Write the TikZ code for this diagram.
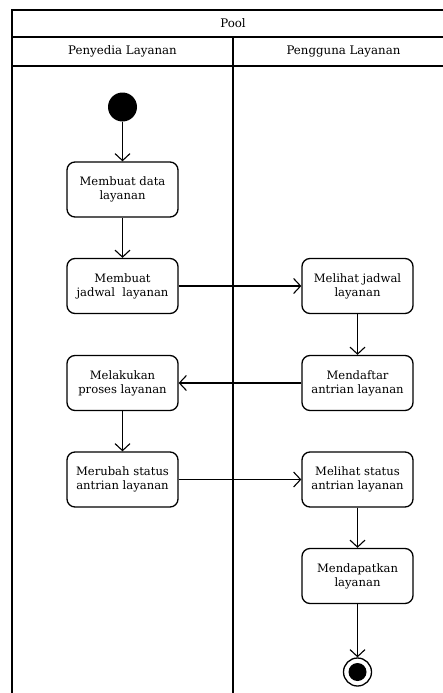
\documentclass[tikz,border=0pt]{standalone}
\usepackage{fontspec}
\setmainfont{DejaVu Serif}
\usetikzlibrary{arrows.meta, positioning}

\tikzset{
  act/.style={draw, line width=1.3pt, rounded corners=8pt, minimum width=111pt, minimum height=55pt, inner sep=2pt, align=center, font=\fontsize{11.6}{14}\selectfont},
  flow/.style={-{Straight Barb[length=7pt,width=15pt]}, line width=1.1pt},
  lane/.style={line width=1.3pt},
  hdr/.style={font=\fontsize{11.8}{13}\selectfont},
}

\begin{document}
\begin{tikzpicture}[x=1pt,y=-1pt]
\useasboundingbox (0,0) rectangle (443,693);
\clip (0,0) rectangle (443,693);
%swimlanes
\draw[lane] (12,10) rectangle (454,720);
\draw[lane] (12,37) -- (454,37);
\draw[lane] (12,66) -- (454,66);
\draw[lane] (233,37) -- (233,720);
\node[hdr] (pool) at (233,23.5) {Pool};
\node[hdr] (penyedia) at (122.5,51.5) {Penyedia Layanan};
\node[hdr] (pengguna) at (343.5,51.5) {Pengguna Layanan};

\node[circle, fill, minimum size=29pt, inner sep=0pt] (start) at (122.5,107) {};
\node[act] (buatdata) at (122.5,189.5) {Membuat data\\layanan};
\node[act] (buatjadwal) at (122.5,286) {Membuat\\jadwal~~layanan};
\node[act] (lihatjadwal) at (357.5,286) {Melihat jadwal\\layanan};
\node[act] (daftar) at (357.5,383) {Mendaftar\\antrian layanan};
\node[act] (proses) at (122.5,383) {Melakukan\\proses layanan};
\node[act] (ubahstatus) at (122.5,479.5) {Merubah status\\antrian layanan};
\node[act] (lihatstatus) at (357.5,479.5) {Melihat status\\antrian layanan};
\node[act] (dapat) at (357.5,576) {Mendapatkan\\layanan};
\node[circle, draw, line width=1.3pt, minimum size=28pt, inner sep=0pt] (end) at (357.5,672) {};
\fill (end.center) circle (9pt);

\draw[flow] (start) -- (buatdata);
\draw[flow] (buatdata) -- (buatjadwal);
\draw[flow] (buatjadwal) -- (lihatjadwal);
\draw[flow] (lihatjadwal) -- (daftar);
\draw[flow] (daftar) -- (proses);
\draw[flow] (proses) -- (ubahstatus);
\draw[flow] (ubahstatus) -- (lihatstatus);
\draw[flow] (lihatstatus) -- (dapat);
\draw[flow] (dapat) -- (end);
\end{tikzpicture}
\end{document}
